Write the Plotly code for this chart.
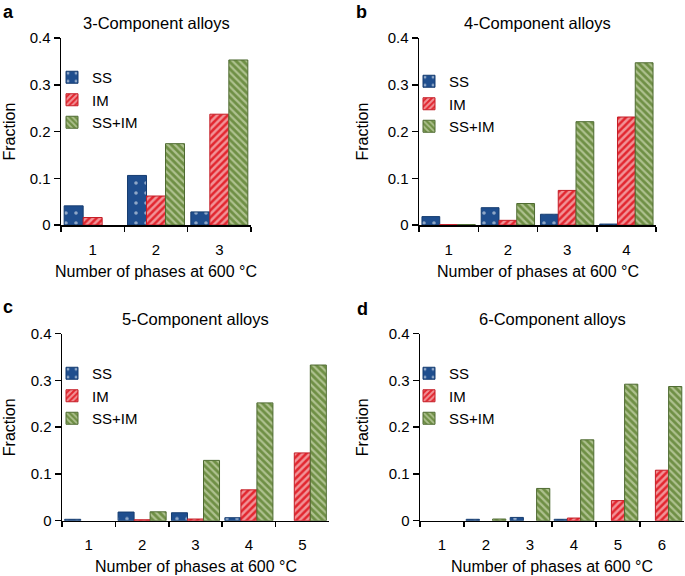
import plotly.graph_objects as go

W, H = 685, 576

# ---- data ----
series_names = ["SS", "IM", "SS+IM"]

cats_a = ["1", "2", "3"]
ss_a = [0.041, 0.106, 0.028]
im_a = [0.016, 0.062, 0.237]
ssim_a = [0.0, 0.174, 0.353]

cats_b = ["1", "2", "3", "4"]
ss_b = [0.018, 0.037, 0.023, 0.002]
im_b = [0.0008, 0.010, 0.074, 0.231]
ssim_b = [0.0008, 0.046, 0.221, 0.347]

cats_c = ["1", "2", "3", "4", "5"]
ss_c = [0.003, 0.0185, 0.017, 0.0064, 0.0]
im_c = [0.0, 0.002, 0.0036, 0.066, 0.145]
ssim_c = [0.0, 0.019, 0.129, 0.252, 0.333]

cats_d = ["1", "2", "3", "4", "5", "6"]
ss_d = [0.0, 0.003, 0.007, 0.003, 0.0, 0.0]
im_d = [0.0, 0.0, 0.0, 0.0057, 0.043, 0.108]
ssim_d = [0.0, 0.0036, 0.069, 0.173, 0.292, 0.287]

panel_titles = ["3-Component alloys", "4-Component alloys",
                "5-Component alloys", "6-Component alloys"]
panel_letters = ["a", "b", "c", "d"]
x_title = "Number of phases at 600 \u00b0C"
y_title = "Fraction"
y_tickvals = [0, 0.1, 0.2, 0.3, 0.4]
y_ticktext = ["0", "0.1", "0.2", "0.3", "0.4"]

# ---- styling ----
FONT = "Liberation Sans, Arial, Helvetica, sans-serif"
styles = [
    dict(color="#1f4e8e", line="#163d70", shape=".", fg="#ffffff", size=10, sol=0.1),
    dict(color="#e2262f", line="#c41d26", shape="/", fg="#ffffff", size=5, sol=0.5),
    dict(color="#6f8f45", line="#4f6b32", shape="\\", fg="#eef3da", size=5, sol=0.45),
]

# panel boxes in pixels: left, right, top, bottom
boxes = [
    (61, 251, 38, 225),
    (419, 656, 38, 225),
    (62, 329, 333.7, 520.7),
    (420, 684, 333.7, 520.7),
]
letter_pos = [(0.5, 12), (354, 12), (0.5, 307), (355, 309)]
legend_pos = [(52, 61), (409, 65), (52, 357), (409, 357)]
ytitle_x = [9, 362, 9, 362]

data = [
    (cats_a, [ss_a, im_a, ssim_a]),
    (cats_b, [ss_b, im_b, ssim_b]),
    (cats_c, [ss_c, im_c, ssim_c]),
    (cats_d, [ss_d, im_d, ssim_d]),
]

fig = go.Figure()
annotations = []
layout_extra = {}

def px(x):
    return x / W

def py(y):
    return 1 - y / H

for i, ((cats, vals), box) in enumerate(zip(data, boxes)):
    n = i + 1
    xa = "x" if n == 1 else f"x{n}"
    ya = "y" if n == 1 else f"y{n}"
    lg = "legend" if n == 1 else f"legend{n}"
    for name, v, st in zip(series_names, vals, styles):
        yv = [val if val > 0 else None for val in v]
        fig.add_trace(go.Bar(
            x=cats, y=yv, name=name, xaxis=xa, yaxis=ya, legend=lg,
            marker=dict(
                color=st["color"],
                line=dict(color=st["line"], width=1),
                pattern=dict(shape=st["shape"], fgcolor=st["fg"],
                             bgcolor=st["color"], size=st["size"],
                             solidity=st["sol"], fillmode="overlay"),
            ),
        ))
    l, r, t, b = box
    xkey = "xaxis" if n == 1 else f"xaxis{n}"
    ykey = "yaxis" if n == 1 else f"yaxis{n}"
    layout_extra[xkey] = dict(
        domain=[px(l), px(r)], anchor=ya, type="category",
        categoryorder="array", categoryarray=cats,
        showline=True, linecolor="black", linewidth=1.5,
        ticks="outside", ticklen=5, tickwidth=1.5, tickcolor="black",
        tickson="boundaries", showgrid=False, zeroline=False,
        tickfont=dict(family=FONT, size=15, color="black"),
        ticklabelstandoff=10, fixedrange=True, automargin=False,
    )
    layout_extra[ykey] = dict(
        domain=[py(b), py(t)], anchor=xa, range=[0, 0.4],
        tickvals=y_tickvals, ticktext=y_ticktext,
        showline=True, linecolor="black", linewidth=1.5,
        ticks="outside", ticklen=6, tickwidth=1.5, tickcolor="black",
        showgrid=False, zeroline=False,
        tickfont=dict(family=FONT, size=15, color="black"), fixedrange=True,
        automargin=False,
    )
    lx, ly = legend_pos[i]
    layout_extra[lg] = dict(
        x=px(lx), y=py(ly), xanchor="left", yanchor="top",
        bgcolor="rgba(0,0,0,0)", borderwidth=0,
        font=dict(family=FONT, size=15, color="black"),
        tracegroupgap=0,
    )
    cx = (l + r) / 2
    annotations.append(dict(
        text=panel_titles[i], x=px(cx), y=py(t - 15), xref="paper", yref="paper",
        showarrow=False, xanchor="center", yanchor="middle",
        font=dict(family=FONT, size=16.5, color="black")))
    annotations.append(dict(
        text=x_title, x=px(cx), y=py(b + 46), xref="paper", yref="paper",
        showarrow=False, xanchor="center", yanchor="middle",
        font=dict(family=FONT, size=16, color="black")))
    annotations.append(dict(
        text=y_title, x=px(ytitle_x[i]), y=py((t + b) / 2), xref="paper", yref="paper",
        showarrow=False, xanchor="center", yanchor="middle", textangle=-90,
        font=dict(family=FONT, size=16, color="black")))
    lxp, lyp = letter_pos[i]
    annotations.append(dict(
        text="<b>" + panel_letters[i] + "</b>", x=px(lxp), y=py(lyp),
        xref="paper", yref="paper", showarrow=False,
        xanchor="left", yanchor="middle",
        font=dict(family=FONT, size=18, color="black")))

fig.update_layout(
    width=W, height=H,
    margin=dict(l=0, r=0, t=0, b=0, pad=0, autoexpand=False),
    paper_bgcolor="white", plot_bgcolor="white",
    barmode="group", bargap=0.1, bargroupgap=0,
    showlegend=True,
    annotations=annotations,
    font=dict(family=FONT, size=16, color="black"),
    **layout_extra,
)

fig.write_html(
    "out.html",
    config={"displayModeBar": False, "staticPlot": True},
    post_script=(
        "document.documentElement.style.margin='0';"
        "document.documentElement.style.overflow='hidden';"
        "document.body.style.margin='0';document.body.style.padding='0';"
        "document.body.style.overflow='hidden';"
        "var gd=document.getElementById('{plot_id}');"
        "gd.style.position='fixed';gd.style.left='0px';gd.style.top='0px';"
    ),
)
